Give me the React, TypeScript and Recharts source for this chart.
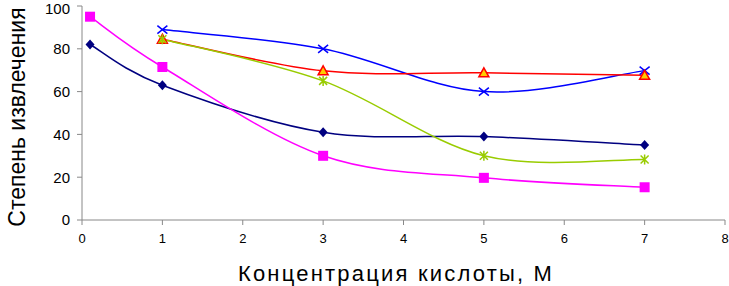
import React from 'react';
import { LineChart, Line, XAxis, YAxis, Label } from 'recharts';

// concentration of acid, M
const xNavy = [0.1, 1, 3, 5, 7];
const yNavy = [82, 63, 41, 39, 35];
const xMagenta = [0.1, 1, 3, 5, 7];
const yMagenta = [95, 71.5, 30, 19.7, 15.3];
const xBlue = [1, 3, 5, 7];
const yBlue = [89, 80, 60, 69.8];
const xRed = [1, 3, 5, 7];
const yRed = [84.5, 69.7, 68.8, 67.6];
const xGreen = [1, 3, 5, 7];
const yGreen = [84.5, 65, 30, 28.3];

const xTicks = [0, 1, 2, 3, 4, 5, 6, 7, 8];
const yTicks = [0, 20, 40, 60, 80, 100];

const toPoints = (xs: number[], ys: number[]) => xs.map((x, i) => ({ x, y: ys[i] }));

// Excel-like smoothed line (bezier, control points at 1/6 of neighbour span)
const excelCurve: any = (ctx: any) => {
  let pts: number[][] = [];
  return {
    areaStart() {},
    areaEnd() {},
    lineStart() { pts = []; },
    point(x: number, y: number) { pts.push([+x, +y]); },
    lineEnd() {
      if (!pts.length) return;
      ctx.moveTo(pts[0][0], pts[0][1]);
      for (let i = 0; i < pts.length - 1; i++) {
        const p0 = pts[i - 1] || pts[i];
        const p1 = pts[i];
        const p2 = pts[i + 1];
        const p3 = pts[i + 2] || p2;
        ctx.bezierCurveTo(
          p1[0] + (p2[0] - p0[0]) / 6, p1[1] + (p2[1] - p0[1]) / 6,
          p2[0] - (p3[0] - p1[0]) / 6, p2[1] - (p3[1] - p1[1]) / 6,
          p2[0], p2[1]
        );
      }
    },
  };
};

const Diamond = ({ cx, cy }: any) => (
  <polygon points={`${cx},${cy - 5} ${cx + 4.5},${cy} ${cx},${cy + 5} ${cx - 4.5},${cy}`} fill="#000080" />
);
const Square = ({ cx, cy }: any) => (
  <rect x={cx - 5} y={cy - 5} width={10} height={10} fill="#ff00ff" />
);
const Cross = ({ cx, cy }: any) => (
  <path d={`M${cx - 5},${cy - 4}L${cx + 5},${cy + 4}M${cx - 5},${cy + 4}L${cx + 5},${cy - 4}`} stroke="#0000ff" strokeWidth={1.5} fill="none" />
);
const Triangle = ({ cx, cy }: any) => (
  <polygon points={`${cx},${cy - 5} ${cx + 5},${cy + 4} ${cx - 5},${cy + 4}`} fill="#ffcc00" stroke="#ff0000" strokeWidth={1.5} />
);
const Star = ({ cx, cy }: any) => (
  <path d={`M${cx - 4},${cy - 4}L${cx + 4},${cy + 4}M${cx - 4},${cy + 4}L${cx + 4},${cy - 4}M${cx},${cy - 5}L${cx},${cy + 5}`} stroke="#99cc00" strokeWidth={1.5} fill="none" />
);

const font = 'Arial, "Liberation Sans", sans-serif';

const YTitle = () => (
  <text
    x={-117}
    y={17}
    transform="rotate(-90)"
    textAnchor="middle"
    dominantBaseline="central"
    fontSize={23}
    fontFamily={font}
    fill="#000"
  >
    Степень извлечения
  </text>
);

const XTitle = () => (
  <text x={396} y={281} textAnchor="middle" fontSize={22} letterSpacing={2.2} fontFamily={font} fill="#000">
    Концентрация кислоты, М
  </text>
);

export default function App() {
  return (
    <div style={{ position: 'absolute', left: 0, top: 0, background: '#fff' }}>
      <LineChart width={729} height={286} margin={{ top: 6, right: 4, left: 0, bottom: 0 }}>
        <XAxis
          type="number"
          dataKey="x"
          domain={[0, 8]}
          ticks={xTicks}
          allowDataOverflow
          stroke="#888"
          tickSize={5}
          height={66}
          tick={{ fill: '#000', fontSize: 13, fontFamily: font }}
          tickMargin={9}
        >
          <Label content={<XTitle />} />
        </XAxis>
        <YAxis
          type="number"
          dataKey="y"
          domain={[0, 100]}
          ticks={yTicks}
          stroke="#888"
          tickSize={5}
          width={82}
          tick={{ fill: '#000', fontSize: 15, fontFamily: font }}
          tickMargin={7}
        >
          <Label content={<YTitle />} />
        </YAxis>
        <Line data={toPoints(xNavy, yNavy)} dataKey="y" type={excelCurve} stroke="#000080" strokeWidth={1.5} dot={<Diamond />} isAnimationActive={false} />
        <Line data={toPoints(xMagenta, yMagenta)} dataKey="y" type={excelCurve} stroke="#ff00ff" strokeWidth={1.5} dot={<Square />} isAnimationActive={false} />
        <Line data={toPoints(xBlue, yBlue)} dataKey="y" type={excelCurve} stroke="#0000ff" strokeWidth={1.5} dot={<Cross />} isAnimationActive={false} />
        <Line data={toPoints(xRed, yRed)} dataKey="y" type={excelCurve} stroke="#ff0000" strokeWidth={1.5} dot={<Triangle />} isAnimationActive={false} />
        <Line data={toPoints(xGreen, yGreen)} dataKey="y" type={excelCurve} stroke="#99cc00" strokeWidth={1.5} dot={<Star />} isAnimationActive={false} />
      </LineChart>
    </div>
  );
}
